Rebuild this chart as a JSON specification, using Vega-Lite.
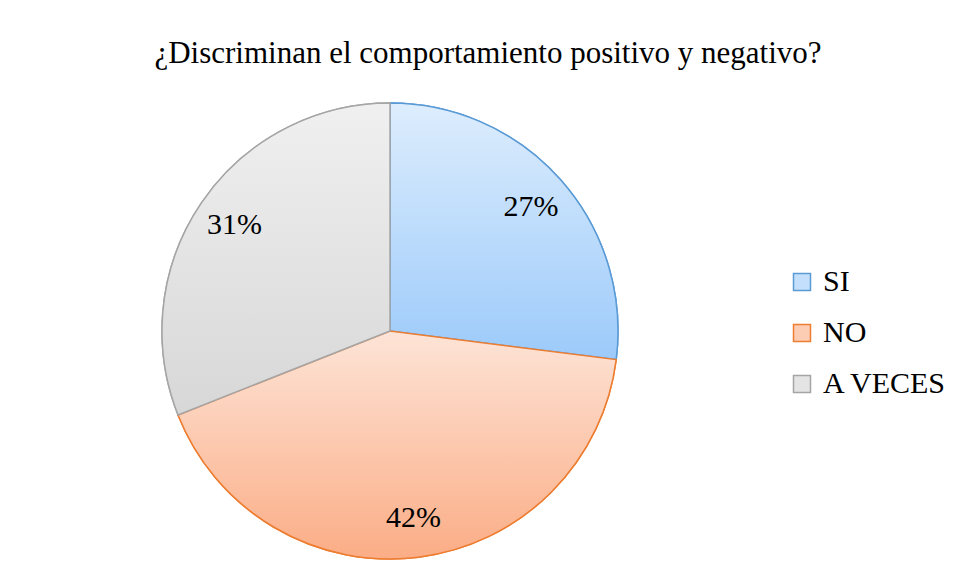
{
  "$schema": "https://vega.github.io/schema/vega-lite/v6.json",
  "width": 456,
  "height": 456,
  "padding": {"left": 154, "top": 38, "right": 10, "bottom": 25},
  "background": "white",
  "title": {
    "text": "¿Discriminan el comportamiento positivo y negativo?",
    "anchor": "middle",
    "frame": "group",
    "dx": 98,
    "offset": 30,
    "font": "Times New Roman, Liberation Serif, serif",
    "fontSize": 31,
    "fontWeight": "normal",
    "color": "#000000"
  },
  "config": {"view": {"stroke": null}},
  "data": {
    "values": [
      {"cat": "SI", "val": 27, "idx": 1, "lab": "27%"},
      {"cat": "NO", "val": 42, "idx": 2, "lab": "42%"},
      {"cat": "A VECES", "val": 31, "idx": 3, "lab": "31%"}
    ]
  },
  "transform": [
    {"stack": "val", "groupby": [], "sort": [{"field": "idx", "order": "ascending"}], "as": ["start", "end"]}
  ],
  "layer": [
    {
      "mark": {"type": "arc", "outerRadius": 228, "strokeWidth": 1.5},
      "encoding": {
        "theta": {"field": "start", "type": "quantitative", "scale": {"domain": [0, 100]}},
        "theta2": {"field": "end"},
        "fill": {
          "field": "cat",
          "type": "nominal",
          "scale": {"domain": ["SI", "NO", "A VECES"], "range": ["#c4dffb", "#fcccb3", "#e4e4e4"]},
          "legend": {
            "title": null,
            "orient": "none",
            "legendX": 625,
            "legendY": 164,
            "symbolType": "square",
            "symbolSize": 289,
            "symbolStrokeWidth": 1.5,
            "labelFont": "Times New Roman, Liberation Serif, serif",
            "labelFontSize": 30,
            "labelColor": "#000000",
            "labelOffset": 6,
            "rowPadding": 21
          }
        },
        "stroke": {
          "field": "cat",
          "type": "nominal",
          "scale": {"domain": ["SI", "NO", "A VECES"], "range": ["#5b9bd5", "#ed7d31", "#a5a5a5"]}
        }
      }
    },
    {
      "transform": [{"filter": "datum.cat === 'SI'"}],
      "mark": {"type": "arc", "outerRadius": 228, "strokeWidth": 1.5, "stroke": "#5b9bd5",
        "fill": {"gradient": "linear", "x1": 0, "y1": 0, "x2": 0, "y2": 1, "stops": [{"offset": 0, "color": "#ddedfd"}, {"offset": 1, "color": "#9ccafa"}]}},
      "encoding": {
        "theta": {"field": "start", "type": "quantitative"},
        "theta2": {"field": "end"}
      }
    },
    {
      "transform": [{"filter": "datum.cat === 'NO'"}],
      "mark": {"type": "arc", "outerRadius": 228, "strokeWidth": 1.5, "stroke": "#ed7d31",
        "fill": {"gradient": "linear", "x1": 0, "y1": 0, "x2": 0, "y2": 1, "stops": [{"offset": 0, "color": "#fde4d7"}, {"offset": 1, "color": "#fbad86"}]}},
      "encoding": {
        "theta": {"field": "start", "type": "quantitative"},
        "theta2": {"field": "end"}
      }
    },
    {
      "transform": [{"filter": "datum.cat === 'A VECES'"}],
      "mark": {"type": "arc", "outerRadius": 228, "strokeWidth": 1.5, "stroke": "#a5a5a5",
        "fill": {"gradient": "linear", "x1": 0, "y1": 0, "x2": 0, "y2": 1, "stops": [{"offset": 0, "color": "#f0f0f0"}, {"offset": 1, "color": "#d7d7d7"}]}},
      "encoding": {
        "theta": {"field": "start", "type": "quantitative"},
        "theta2": {"field": "end"}
      }
    },
    {
      "mark": {"type": "text", "radius": 188, "font": "Times New Roman, Liberation Serif, serif", "fontSize": 30, "color": "#000000"},
      "encoding": {
        "theta": {"field": "val", "type": "quantitative", "stack": true},
        "order": {"field": "idx", "type": "quantitative"},
        "text": {"field": "lab", "type": "nominal"}
      }
    }
  ]
}
